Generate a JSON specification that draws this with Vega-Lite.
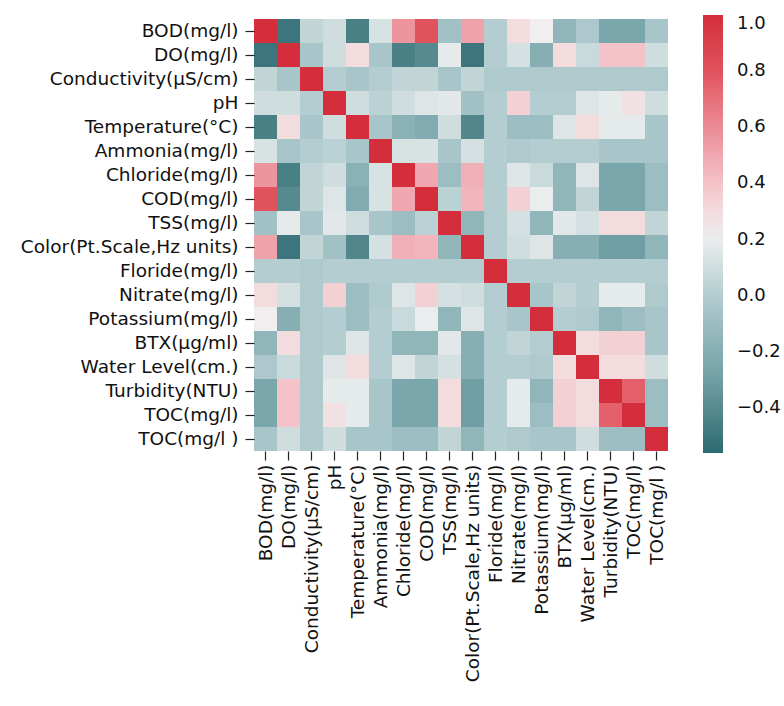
{
"$schema": "https://vega.github.io/schema/vega-lite/v6.json",
"width": 414,
"height": 432,
"autosize": {"type": "none"},
"padding": {"left": 254, "top": 19, "right": 116, "bottom": 255},
"background": "white",
"config": {"view": {"stroke": null}, "font": "DejaVu Sans"},
"datasets": {
"cells": [
{"y":"BOD(mg/l)","x":"BOD(mg/l)","v":1},{"y":"BOD(mg/l)","x":"DO(mg/l)","v":-0.5},{"y":"BOD(mg/l)","x":"Conductivity(µS/cm)","v":0.05},{"y":"BOD(mg/l)","x":"pH","v":0.1},{"y":"BOD(mg/l)","x":"Temperature(°C)","v":-0.45},{"y":"BOD(mg/l)","x":"Ammonia(mg/l)","v":0.13},{"y":"BOD(mg/l)","x":"Chloride(mg/l)","v":0.57},{"y":"BOD(mg/l)","x":"COD(mg/l)","v":0.8},{"y":"BOD(mg/l)","x":"TSS(mg/l)","v":-0.08},{"y":"BOD(mg/l)","x":"Color(Pt.Scale,Hz units)","v":0.52},{"y":"BOD(mg/l)","x":"Floride(mg/l)","v":0.0},{"y":"BOD(mg/l)","x":"Nitrate(mg/l)","v":0.3},{"y":"BOD(mg/l)","x":"Potassium(mg/l)","v":0.23},{"y":"BOD(mg/l)","x":"BTX(µg/ml)","v":-0.15},{"y":"BOD(mg/l)","x":"Water Level(cm.)","v":-0.03},{"y":"BOD(mg/l)","x":"Turbidity(NTU)","v":-0.25},{"y":"BOD(mg/l)","x":"TOC(mg/l)","v":-0.25},{"y":"BOD(mg/l)","x":"TOC(mg/l )","v":-0.05},
{"y":"DO(mg/l)","x":"BOD(mg/l)","v":-0.5},{"y":"DO(mg/l)","x":"DO(mg/l)","v":1},{"y":"DO(mg/l)","x":"Conductivity(µS/cm)","v":-0.05},{"y":"DO(mg/l)","x":"pH","v":0.1},{"y":"DO(mg/l)","x":"Temperature(°C)","v":0.3},{"y":"DO(mg/l)","x":"Ammonia(mg/l)","v":-0.05},{"y":"DO(mg/l)","x":"Chloride(mg/l)","v":-0.45},{"y":"DO(mg/l)","x":"COD(mg/l)","v":-0.4},{"y":"DO(mg/l)","x":"TSS(mg/l)","v":0.18},{"y":"DO(mg/l)","x":"Color(Pt.Scale,Hz units)","v":-0.5},{"y":"DO(mg/l)","x":"Floride(mg/l)","v":0.0},{"y":"DO(mg/l)","x":"Nitrate(mg/l)","v":0.12},{"y":"DO(mg/l)","x":"Potassium(mg/l)","v":-0.2},{"y":"DO(mg/l)","x":"BTX(µg/ml)","v":0.3},{"y":"DO(mg/l)","x":"Water Level(cm.)","v":0.08},{"y":"DO(mg/l)","x":"Turbidity(NTU)","v":0.4},{"y":"DO(mg/l)","x":"TOC(mg/l)","v":0.4},{"y":"DO(mg/l)","x":"TOC(mg/l )","v":0.1},
{"y":"Conductivity(µS/cm)","x":"BOD(mg/l)","v":0.05},{"y":"Conductivity(µS/cm)","x":"DO(mg/l)","v":-0.05},{"y":"Conductivity(µS/cm)","x":"Conductivity(µS/cm)","v":1},{"y":"Conductivity(µS/cm)","x":"pH","v":0.0},{"y":"Conductivity(µS/cm)","x":"Temperature(°C)","v":-0.05},{"y":"Conductivity(µS/cm)","x":"Ammonia(mg/l)","v":0.0},{"y":"Conductivity(µS/cm)","x":"Chloride(mg/l)","v":0.05},{"y":"Conductivity(µS/cm)","x":"COD(mg/l)","v":0.05},{"y":"Conductivity(µS/cm)","x":"TSS(mg/l)","v":-0.05},{"y":"Conductivity(µS/cm)","x":"Color(Pt.Scale,Hz units)","v":0.05},{"y":"Conductivity(µS/cm)","x":"Floride(mg/l)","v":-0.02},{"y":"Conductivity(µS/cm)","x":"Nitrate(mg/l)","v":-0.02},{"y":"Conductivity(µS/cm)","x":"Potassium(mg/l)","v":-0.02},{"y":"Conductivity(µS/cm)","x":"BTX(µg/ml)","v":-0.02},{"y":"Conductivity(µS/cm)","x":"Water Level(cm.)","v":-0.02},{"y":"Conductivity(µS/cm)","x":"Turbidity(NTU)","v":-0.02},{"y":"Conductivity(µS/cm)","x":"TOC(mg/l)","v":-0.02},{"y":"Conductivity(µS/cm)","x":"TOC(mg/l )","v":-0.02},
{"y":"pH","x":"BOD(mg/l)","v":0.1},{"y":"pH","x":"DO(mg/l)","v":0.1},{"y":"pH","x":"Conductivity(µS/cm)","v":0.0},{"y":"pH","x":"pH","v":1},{"y":"pH","x":"Temperature(°C)","v":0.1},{"y":"pH","x":"Ammonia(mg/l)","v":0.03},{"y":"pH","x":"Chloride(mg/l)","v":0.1},{"y":"pH","x":"COD(mg/l)","v":0.15},{"y":"pH","x":"TSS(mg/l)","v":0.17},{"y":"pH","x":"Color(Pt.Scale,Hz units)","v":-0.08},{"y":"pH","x":"Floride(mg/l)","v":0.0},{"y":"pH","x":"Nitrate(mg/l)","v":0.35},{"y":"pH","x":"Potassium(mg/l)","v":0.0},{"y":"pH","x":"BTX(µg/ml)","v":0.0},{"y":"pH","x":"Water Level(cm.)","v":0.15},{"y":"pH","x":"Turbidity(NTU)","v":0.18},{"y":"pH","x":"TOC(mg/l)","v":0.28},{"y":"pH","x":"TOC(mg/l )","v":0.1},
{"y":"Temperature(°C)","x":"BOD(mg/l)","v":-0.45},{"y":"Temperature(°C)","x":"DO(mg/l)","v":0.3},{"y":"Temperature(°C)","x":"Conductivity(µS/cm)","v":-0.05},{"y":"Temperature(°C)","x":"pH","v":0.1},{"y":"Temperature(°C)","x":"Temperature(°C)","v":1},{"y":"Temperature(°C)","x":"Ammonia(mg/l)","v":-0.05},{"y":"Temperature(°C)","x":"Chloride(mg/l)","v":-0.18},{"y":"Temperature(°C)","x":"COD(mg/l)","v":-0.22},{"y":"Temperature(°C)","x":"TSS(mg/l)","v":0.1},{"y":"Temperature(°C)","x":"Color(Pt.Scale,Hz units)","v":-0.42},{"y":"Temperature(°C)","x":"Floride(mg/l)","v":0.0},{"y":"Temperature(°C)","x":"Nitrate(mg/l)","v":-0.1},{"y":"Temperature(°C)","x":"Potassium(mg/l)","v":-0.1},{"y":"Temperature(°C)","x":"BTX(µg/ml)","v":0.15},{"y":"Temperature(°C)","x":"Water Level(cm.)","v":0.3},{"y":"Temperature(°C)","x":"Turbidity(NTU)","v":0.18},{"y":"Temperature(°C)","x":"TOC(mg/l)","v":0.18},{"y":"Temperature(°C)","x":"TOC(mg/l )","v":-0.05},
{"y":"Ammonia(mg/l)","x":"BOD(mg/l)","v":0.13},{"y":"Ammonia(mg/l)","x":"DO(mg/l)","v":-0.05},{"y":"Ammonia(mg/l)","x":"Conductivity(µS/cm)","v":0.0},{"y":"Ammonia(mg/l)","x":"pH","v":0.03},{"y":"Ammonia(mg/l)","x":"Temperature(°C)","v":-0.05},{"y":"Ammonia(mg/l)","x":"Ammonia(mg/l)","v":1},{"y":"Ammonia(mg/l)","x":"Chloride(mg/l)","v":0.13},{"y":"Ammonia(mg/l)","x":"COD(mg/l)","v":0.13},{"y":"Ammonia(mg/l)","x":"TSS(mg/l)","v":-0.05},{"y":"Ammonia(mg/l)","x":"Color(Pt.Scale,Hz units)","v":0.12},{"y":"Ammonia(mg/l)","x":"Floride(mg/l)","v":0.0},{"y":"Ammonia(mg/l)","x":"Nitrate(mg/l)","v":-0.02},{"y":"Ammonia(mg/l)","x":"Potassium(mg/l)","v":0.0},{"y":"Ammonia(mg/l)","x":"BTX(µg/ml)","v":0.0},{"y":"Ammonia(mg/l)","x":"Water Level(cm.)","v":0.0},{"y":"Ammonia(mg/l)","x":"Turbidity(NTU)","v":-0.05},{"y":"Ammonia(mg/l)","x":"TOC(mg/l)","v":-0.05},{"y":"Ammonia(mg/l)","x":"TOC(mg/l )","v":-0.05},
{"y":"Chloride(mg/l)","x":"BOD(mg/l)","v":0.57},{"y":"Chloride(mg/l)","x":"DO(mg/l)","v":-0.45},{"y":"Chloride(mg/l)","x":"Conductivity(µS/cm)","v":0.05},{"y":"Chloride(mg/l)","x":"pH","v":0.1},{"y":"Chloride(mg/l)","x":"Temperature(°C)","v":-0.18},{"y":"Chloride(mg/l)","x":"Ammonia(mg/l)","v":0.13},{"y":"Chloride(mg/l)","x":"Chloride(mg/l)","v":1},{"y":"Chloride(mg/l)","x":"COD(mg/l)","v":0.5},{"y":"Chloride(mg/l)","x":"TSS(mg/l)","v":-0.1},{"y":"Chloride(mg/l)","x":"Color(Pt.Scale,Hz units)","v":0.47},{"y":"Chloride(mg/l)","x":"Floride(mg/l)","v":0.0},{"y":"Chloride(mg/l)","x":"Nitrate(mg/l)","v":0.15},{"y":"Chloride(mg/l)","x":"Potassium(mg/l)","v":0.08},{"y":"Chloride(mg/l)","x":"BTX(µg/ml)","v":-0.15},{"y":"Chloride(mg/l)","x":"Water Level(cm.)","v":0.15},{"y":"Chloride(mg/l)","x":"Turbidity(NTU)","v":-0.25},{"y":"Chloride(mg/l)","x":"TOC(mg/l)","v":-0.25},{"y":"Chloride(mg/l)","x":"TOC(mg/l )","v":-0.1},
{"y":"COD(mg/l)","x":"BOD(mg/l)","v":0.8},{"y":"COD(mg/l)","x":"DO(mg/l)","v":-0.4},{"y":"COD(mg/l)","x":"Conductivity(µS/cm)","v":0.05},{"y":"COD(mg/l)","x":"pH","v":0.15},{"y":"COD(mg/l)","x":"Temperature(°C)","v":-0.22},{"y":"COD(mg/l)","x":"Ammonia(mg/l)","v":0.13},{"y":"COD(mg/l)","x":"Chloride(mg/l)","v":0.5},{"y":"COD(mg/l)","x":"COD(mg/l)","v":1},{"y":"COD(mg/l)","x":"TSS(mg/l)","v":0.03},{"y":"COD(mg/l)","x":"Color(Pt.Scale,Hz units)","v":0.45},{"y":"COD(mg/l)","x":"Floride(mg/l)","v":0.0},{"y":"COD(mg/l)","x":"Nitrate(mg/l)","v":0.35},{"y":"COD(mg/l)","x":"Potassium(mg/l)","v":0.2},{"y":"COD(mg/l)","x":"BTX(µg/ml)","v":-0.15},{"y":"COD(mg/l)","x":"Water Level(cm.)","v":0.05},{"y":"COD(mg/l)","x":"Turbidity(NTU)","v":-0.25},{"y":"COD(mg/l)","x":"TOC(mg/l)","v":-0.25},{"y":"COD(mg/l)","x":"TOC(mg/l )","v":-0.1},
{"y":"TSS(mg/l)","x":"BOD(mg/l)","v":-0.08},{"y":"TSS(mg/l)","x":"DO(mg/l)","v":0.18},{"y":"TSS(mg/l)","x":"Conductivity(µS/cm)","v":-0.05},{"y":"TSS(mg/l)","x":"pH","v":0.17},{"y":"TSS(mg/l)","x":"Temperature(°C)","v":0.1},{"y":"TSS(mg/l)","x":"Ammonia(mg/l)","v":-0.05},{"y":"TSS(mg/l)","x":"Chloride(mg/l)","v":-0.1},{"y":"TSS(mg/l)","x":"COD(mg/l)","v":0.03},{"y":"TSS(mg/l)","x":"TSS(mg/l)","v":1},{"y":"TSS(mg/l)","x":"Color(Pt.Scale,Hz units)","v":-0.15},{"y":"TSS(mg/l)","x":"Floride(mg/l)","v":0.0},{"y":"TSS(mg/l)","x":"Nitrate(mg/l)","v":0.12},{"y":"TSS(mg/l)","x":"Potassium(mg/l)","v":-0.15},{"y":"TSS(mg/l)","x":"BTX(µg/ml)","v":0.17},{"y":"TSS(mg/l)","x":"Water Level(cm.)","v":0.12},{"y":"TSS(mg/l)","x":"Turbidity(NTU)","v":0.3},{"y":"TSS(mg/l)","x":"TOC(mg/l)","v":0.3},{"y":"TSS(mg/l)","x":"TOC(mg/l )","v":0.05},
{"y":"Color(Pt.Scale,Hz units)","x":"BOD(mg/l)","v":0.52},{"y":"Color(Pt.Scale,Hz units)","x":"DO(mg/l)","v":-0.5},{"y":"Color(Pt.Scale,Hz units)","x":"Conductivity(µS/cm)","v":0.05},{"y":"Color(Pt.Scale,Hz units)","x":"pH","v":-0.08},{"y":"Color(Pt.Scale,Hz units)","x":"Temperature(°C)","v":-0.42},{"y":"Color(Pt.Scale,Hz units)","x":"Ammonia(mg/l)","v":0.12},{"y":"Color(Pt.Scale,Hz units)","x":"Chloride(mg/l)","v":0.47},{"y":"Color(Pt.Scale,Hz units)","x":"COD(mg/l)","v":0.45},{"y":"Color(Pt.Scale,Hz units)","x":"TSS(mg/l)","v":-0.15},{"y":"Color(Pt.Scale,Hz units)","x":"Color(Pt.Scale,Hz units)","v":1},{"y":"Color(Pt.Scale,Hz units)","x":"Floride(mg/l)","v":0.0},{"y":"Color(Pt.Scale,Hz units)","x":"Nitrate(mg/l)","v":0.1},{"y":"Color(Pt.Scale,Hz units)","x":"Potassium(mg/l)","v":0.15},{"y":"Color(Pt.Scale,Hz units)","x":"BTX(µg/ml)","v":-0.2},{"y":"Color(Pt.Scale,Hz units)","x":"Water Level(cm.)","v":-0.2},{"y":"Color(Pt.Scale,Hz units)","x":"Turbidity(NTU)","v":-0.3},{"y":"Color(Pt.Scale,Hz units)","x":"TOC(mg/l)","v":-0.3},{"y":"Color(Pt.Scale,Hz units)","x":"TOC(mg/l )","v":-0.15},
{"y":"Floride(mg/l)","x":"BOD(mg/l)","v":0.0},{"y":"Floride(mg/l)","x":"DO(mg/l)","v":0.0},{"y":"Floride(mg/l)","x":"Conductivity(µS/cm)","v":-0.02},{"y":"Floride(mg/l)","x":"pH","v":0.0},{"y":"Floride(mg/l)","x":"Temperature(°C)","v":0.0},{"y":"Floride(mg/l)","x":"Ammonia(mg/l)","v":0.0},{"y":"Floride(mg/l)","x":"Chloride(mg/l)","v":0.0},{"y":"Floride(mg/l)","x":"COD(mg/l)","v":0.0},{"y":"Floride(mg/l)","x":"TSS(mg/l)","v":0.0},{"y":"Floride(mg/l)","x":"Color(Pt.Scale,Hz units)","v":0.0},{"y":"Floride(mg/l)","x":"Floride(mg/l)","v":1},{"y":"Floride(mg/l)","x":"Nitrate(mg/l)","v":0.0},{"y":"Floride(mg/l)","x":"Potassium(mg/l)","v":0.0},{"y":"Floride(mg/l)","x":"BTX(µg/ml)","v":0.0},{"y":"Floride(mg/l)","x":"Water Level(cm.)","v":0.0},{"y":"Floride(mg/l)","x":"Turbidity(NTU)","v":0.0},{"y":"Floride(mg/l)","x":"TOC(mg/l)","v":0.0},{"y":"Floride(mg/l)","x":"TOC(mg/l )","v":0.0},
{"y":"Nitrate(mg/l)","x":"BOD(mg/l)","v":0.3},{"y":"Nitrate(mg/l)","x":"DO(mg/l)","v":0.12},{"y":"Nitrate(mg/l)","x":"Conductivity(µS/cm)","v":-0.02},{"y":"Nitrate(mg/l)","x":"pH","v":0.35},{"y":"Nitrate(mg/l)","x":"Temperature(°C)","v":-0.1},{"y":"Nitrate(mg/l)","x":"Ammonia(mg/l)","v":-0.02},{"y":"Nitrate(mg/l)","x":"Chloride(mg/l)","v":0.15},{"y":"Nitrate(mg/l)","x":"COD(mg/l)","v":0.35},{"y":"Nitrate(mg/l)","x":"TSS(mg/l)","v":0.12},{"y":"Nitrate(mg/l)","x":"Color(Pt.Scale,Hz units)","v":0.1},{"y":"Nitrate(mg/l)","x":"Floride(mg/l)","v":0.0},{"y":"Nitrate(mg/l)","x":"Nitrate(mg/l)","v":1},{"y":"Nitrate(mg/l)","x":"Potassium(mg/l)","v":-0.05},{"y":"Nitrate(mg/l)","x":"BTX(µg/ml)","v":0.05},{"y":"Nitrate(mg/l)","x":"Water Level(cm.)","v":0.0},{"y":"Nitrate(mg/l)","x":"Turbidity(NTU)","v":0.18},{"y":"Nitrate(mg/l)","x":"TOC(mg/l)","v":0.18},{"y":"Nitrate(mg/l)","x":"TOC(mg/l )","v":-0.02},
{"y":"Potassium(mg/l)","x":"BOD(mg/l)","v":0.23},{"y":"Potassium(mg/l)","x":"DO(mg/l)","v":-0.2},{"y":"Potassium(mg/l)","x":"Conductivity(µS/cm)","v":-0.02},{"y":"Potassium(mg/l)","x":"pH","v":0.0},{"y":"Potassium(mg/l)","x":"Temperature(°C)","v":-0.1},{"y":"Potassium(mg/l)","x":"Ammonia(mg/l)","v":0.0},{"y":"Potassium(mg/l)","x":"Chloride(mg/l)","v":0.08},{"y":"Potassium(mg/l)","x":"COD(mg/l)","v":0.2},{"y":"Potassium(mg/l)","x":"TSS(mg/l)","v":-0.15},{"y":"Potassium(mg/l)","x":"Color(Pt.Scale,Hz units)","v":0.15},{"y":"Potassium(mg/l)","x":"Floride(mg/l)","v":0.0},{"y":"Potassium(mg/l)","x":"Nitrate(mg/l)","v":-0.05},{"y":"Potassium(mg/l)","x":"Potassium(mg/l)","v":1},{"y":"Potassium(mg/l)","x":"BTX(µg/ml)","v":0.0},{"y":"Potassium(mg/l)","x":"Water Level(cm.)","v":-0.02},{"y":"Potassium(mg/l)","x":"Turbidity(NTU)","v":-0.15},{"y":"Potassium(mg/l)","x":"TOC(mg/l)","v":-0.1},{"y":"Potassium(mg/l)","x":"TOC(mg/l )","v":-0.05},
{"y":"BTX(µg/ml)","x":"BOD(mg/l)","v":-0.15},{"y":"BTX(µg/ml)","x":"DO(mg/l)","v":0.3},{"y":"BTX(µg/ml)","x":"Conductivity(µS/cm)","v":-0.02},{"y":"BTX(µg/ml)","x":"pH","v":0.0},{"y":"BTX(µg/ml)","x":"Temperature(°C)","v":0.15},{"y":"BTX(µg/ml)","x":"Ammonia(mg/l)","v":0.0},{"y":"BTX(µg/ml)","x":"Chloride(mg/l)","v":-0.15},{"y":"BTX(µg/ml)","x":"COD(mg/l)","v":-0.15},{"y":"BTX(µg/ml)","x":"TSS(mg/l)","v":0.17},{"y":"BTX(µg/ml)","x":"Color(Pt.Scale,Hz units)","v":-0.2},{"y":"BTX(µg/ml)","x":"Floride(mg/l)","v":0.0},{"y":"BTX(µg/ml)","x":"Nitrate(mg/l)","v":0.05},{"y":"BTX(µg/ml)","x":"Potassium(mg/l)","v":0.0},{"y":"BTX(µg/ml)","x":"BTX(µg/ml)","v":1},{"y":"BTX(µg/ml)","x":"Water Level(cm.)","v":0.3},{"y":"BTX(µg/ml)","x":"Turbidity(NTU)","v":0.35},{"y":"BTX(µg/ml)","x":"TOC(mg/l)","v":0.35},{"y":"BTX(µg/ml)","x":"TOC(mg/l )","v":-0.05},
{"y":"Water Level(cm.)","x":"BOD(mg/l)","v":-0.03},{"y":"Water Level(cm.)","x":"DO(mg/l)","v":0.08},{"y":"Water Level(cm.)","x":"Conductivity(µS/cm)","v":-0.02},{"y":"Water Level(cm.)","x":"pH","v":0.15},{"y":"Water Level(cm.)","x":"Temperature(°C)","v":0.3},{"y":"Water Level(cm.)","x":"Ammonia(mg/l)","v":0.0},{"y":"Water Level(cm.)","x":"Chloride(mg/l)","v":0.15},{"y":"Water Level(cm.)","x":"COD(mg/l)","v":0.05},{"y":"Water Level(cm.)","x":"TSS(mg/l)","v":0.12},{"y":"Water Level(cm.)","x":"Color(Pt.Scale,Hz units)","v":-0.2},{"y":"Water Level(cm.)","x":"Floride(mg/l)","v":0.0},{"y":"Water Level(cm.)","x":"Nitrate(mg/l)","v":0.0},{"y":"Water Level(cm.)","x":"Potassium(mg/l)","v":-0.02},{"y":"Water Level(cm.)","x":"BTX(µg/ml)","v":0.3},{"y":"Water Level(cm.)","x":"Water Level(cm.)","v":1},{"y":"Water Level(cm.)","x":"Turbidity(NTU)","v":0.3},{"y":"Water Level(cm.)","x":"TOC(mg/l)","v":0.3},{"y":"Water Level(cm.)","x":"TOC(mg/l )","v":0.1},
{"y":"Turbidity(NTU)","x":"BOD(mg/l)","v":-0.25},{"y":"Turbidity(NTU)","x":"DO(mg/l)","v":0.4},{"y":"Turbidity(NTU)","x":"Conductivity(µS/cm)","v":-0.02},{"y":"Turbidity(NTU)","x":"pH","v":0.18},{"y":"Turbidity(NTU)","x":"Temperature(°C)","v":0.18},{"y":"Turbidity(NTU)","x":"Ammonia(mg/l)","v":-0.05},{"y":"Turbidity(NTU)","x":"Chloride(mg/l)","v":-0.25},{"y":"Turbidity(NTU)","x":"COD(mg/l)","v":-0.25},{"y":"Turbidity(NTU)","x":"TSS(mg/l)","v":0.3},{"y":"Turbidity(NTU)","x":"Color(Pt.Scale,Hz units)","v":-0.3},{"y":"Turbidity(NTU)","x":"Floride(mg/l)","v":0.0},{"y":"Turbidity(NTU)","x":"Nitrate(mg/l)","v":0.18},{"y":"Turbidity(NTU)","x":"Potassium(mg/l)","v":-0.15},{"y":"Turbidity(NTU)","x":"BTX(µg/ml)","v":0.35},{"y":"Turbidity(NTU)","x":"Water Level(cm.)","v":0.3},{"y":"Turbidity(NTU)","x":"Turbidity(NTU)","v":1},{"y":"Turbidity(NTU)","x":"TOC(mg/l)","v":0.75},{"y":"Turbidity(NTU)","x":"TOC(mg/l )","v":-0.1},
{"y":"TOC(mg/l)","x":"BOD(mg/l)","v":-0.25},{"y":"TOC(mg/l)","x":"DO(mg/l)","v":0.4},{"y":"TOC(mg/l)","x":"Conductivity(µS/cm)","v":-0.02},{"y":"TOC(mg/l)","x":"pH","v":0.28},{"y":"TOC(mg/l)","x":"Temperature(°C)","v":0.18},{"y":"TOC(mg/l)","x":"Ammonia(mg/l)","v":-0.05},{"y":"TOC(mg/l)","x":"Chloride(mg/l)","v":-0.25},{"y":"TOC(mg/l)","x":"COD(mg/l)","v":-0.25},{"y":"TOC(mg/l)","x":"TSS(mg/l)","v":0.3},{"y":"TOC(mg/l)","x":"Color(Pt.Scale,Hz units)","v":-0.3},{"y":"TOC(mg/l)","x":"Floride(mg/l)","v":0.0},{"y":"TOC(mg/l)","x":"Nitrate(mg/l)","v":0.18},{"y":"TOC(mg/l)","x":"Potassium(mg/l)","v":-0.1},{"y":"TOC(mg/l)","x":"BTX(µg/ml)","v":0.35},{"y":"TOC(mg/l)","x":"Water Level(cm.)","v":0.3},{"y":"TOC(mg/l)","x":"Turbidity(NTU)","v":0.75},{"y":"TOC(mg/l)","x":"TOC(mg/l)","v":1},{"y":"TOC(mg/l)","x":"TOC(mg/l )","v":-0.1},
{"y":"TOC(mg/l )","x":"BOD(mg/l)","v":-0.05},{"y":"TOC(mg/l )","x":"DO(mg/l)","v":0.1},{"y":"TOC(mg/l )","x":"Conductivity(µS/cm)","v":-0.02},{"y":"TOC(mg/l )","x":"pH","v":0.1},{"y":"TOC(mg/l )","x":"Temperature(°C)","v":-0.05},{"y":"TOC(mg/l )","x":"Ammonia(mg/l)","v":-0.05},{"y":"TOC(mg/l )","x":"Chloride(mg/l)","v":-0.1},{"y":"TOC(mg/l )","x":"COD(mg/l)","v":-0.1},{"y":"TOC(mg/l )","x":"TSS(mg/l)","v":0.05},{"y":"TOC(mg/l )","x":"Color(Pt.Scale,Hz units)","v":-0.15},{"y":"TOC(mg/l )","x":"Floride(mg/l)","v":0.0},{"y":"TOC(mg/l )","x":"Nitrate(mg/l)","v":-0.02},{"y":"TOC(mg/l )","x":"Potassium(mg/l)","v":-0.05},{"y":"TOC(mg/l )","x":"BTX(µg/ml)","v":-0.05},{"y":"TOC(mg/l )","x":"Water Level(cm.)","v":0.1},{"y":"TOC(mg/l )","x":"Turbidity(NTU)","v":-0.1},{"y":"TOC(mg/l )","x":"TOC(mg/l)","v":-0.1},{"y":"TOC(mg/l )","x":"TOC(mg/l )","v":1}
]
},
"data": {"name": "cells"},
"mark": {"type": "rect"},
"encoding": {
"x": {"field": "x", "type": "nominal",
"sort": ["BOD(mg/l)","DO(mg/l)","Conductivity(µS/cm)","pH","Temperature(°C)","Ammonia(mg/l)","Chloride(mg/l)","COD(mg/l)","TSS(mg/l)","Color(Pt.Scale,Hz units)","Floride(mg/l)","Nitrate(mg/l)","Potassium(mg/l)","BTX(µg/ml)","Water Level(cm.)","Turbidity(NTU)","TOC(mg/l)","TOC(mg/l )"],
"scale": {"paddingInner": 0, "paddingOuter": 0},
"axis": {"title": null, "labelAngle": -90, "labelFontSize": 18.5, "labelColor": "#111", "labelFont": "DejaVu Sans", "tickSize": 9, "tickColor": "#222", "tickWidth": 1.2, "domain": false, "labelPadding": 4, "labelLimit": 300}},
"y": {"field": "y", "type": "nominal",
"sort": ["BOD(mg/l)","DO(mg/l)","Conductivity(µS/cm)","pH","Temperature(°C)","Ammonia(mg/l)","Chloride(mg/l)","COD(mg/l)","TSS(mg/l)","Color(Pt.Scale,Hz units)","Floride(mg/l)","Nitrate(mg/l)","Potassium(mg/l)","BTX(µg/ml)","Water Level(cm.)","Turbidity(NTU)","TOC(mg/l)","TOC(mg/l )"],
"scale": {"paddingInner": 0, "paddingOuter": 0},
"axis": {"title": null, "labelFontSize": 18.5, "labelColor": "#111", "labelFont": "DejaVu Sans", "tickSize": 9, "tickColor": "#222", "tickWidth": 1.2, "domain": false, "labelPadding": 7, "labelLimit": 300}},
"color": {"field": "v", "type": "quantitative",
"scale": {"domain": [-0.56, -0.3, 0.0, 0.22, 0.4, 0.6, 0.8, 1.0],
"range": ["#2b6a71", "#6f9fa4", "#b3cdd0", "#f0f0f0", "#f3c3c9", "#eb8b95", "#e0525e", "#d42d3b"]},
"legend": {"type": "gradient", "orient": "none", "legendX": 449, "legendY": -4, "direction": "vertical", "title": null,
"gradientLength": 438, "gradientThickness": 20, "gradientStrokeWidth": 0,
"values": [-0.4, -0.2, 0, 0.2, 0.4, 0.6, 0.8, 1.0], "format": ".1f",
"labelFontSize": 18, "labelFont": "DejaVu Sans", "labelColor": "#111", "labelOffset": 14}}
}
}
